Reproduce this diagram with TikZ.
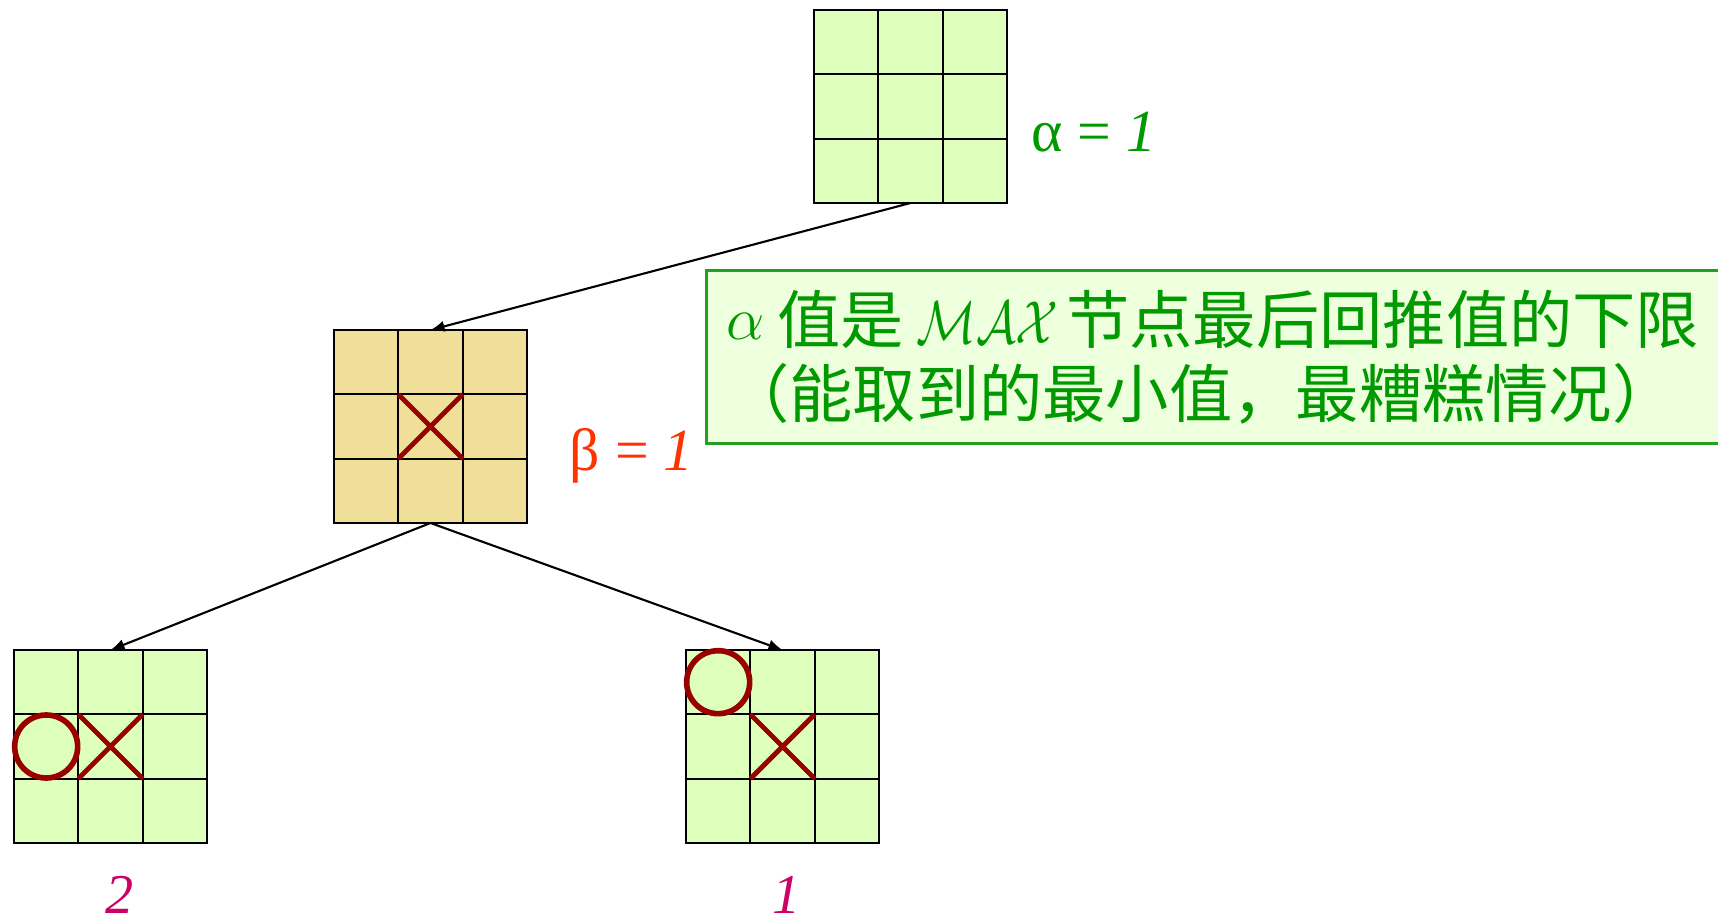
\documentclass[tikz,border=0pt]{standalone}
\usepackage{fontspec}
\usepackage{xcolor}
\usepackage{tikz}
\usetikzlibrary{arrows.meta}

\newfontfamily\cjkfont{Noto Sans CJK SC}
\newfontfamily\labelfont{Liberation Serif}

\definecolor{boardgreen}{HTML}{DDFFBB}
\definecolor{boardtan}{HTML}{F0DF99}
\definecolor{markred}{HTML}{990000}
\definecolor{alphagreen}{HTML}{009900}
\definecolor{betaorange}{HTML}{FF3300}
\definecolor{leafpink}{HTML}{CC0066}
\definecolor{notefill}{HTML}{EEFFDD}
\definecolor{noteline}{HTML}{22A022}

\begin{document}
\begin{tikzpicture}[
    board/.style={draw, rectangle, line width=0.6pt, minimum size=1.93cm, outer sep=0pt, inner sep=0pt, fill=boardgreen},
    cell/.style={line width=0.6pt},
    xmark/.style={markred, line width=1.4pt},
    omark/.style={markred, line width=1.6pt},
    edge/.style={->, >={Latex[length=4pt, width=3.2pt]}, line width=0.6pt},
    bound/.style={font=\labelfont\fontsize{17}{20}\selectfont, anchor=base west, inner sep=0pt},
    leaf/.style={font=\labelfont\fontsize{16}{19}\selectfont, text=leafpink, anchor=base, inner sep=0pt}
]
    \useasboundingbox (0,0) rectangle (17.18,-9.21);

    % Boards of the game tree
    \node[board] (top) at (9.105, -1.065) {};
    \node[board, fill=boardtan] (mid) at (4.305, -4.265) {};
    \node[board] (left) at (1.105, -7.465) {};
    \node[board] (right) at (7.825, -7.465) {};

    % Inner lines of each board
    \foreach \b in {top, mid, left, right}
        \foreach \k in {1, 2} {
            \draw[cell] (\b.north west) ++(\k*0.6433, 0) -- ++(0, -1.93);
            \draw[cell] (\b.north west) ++(0, -\k*0.6433) -- ++(1.93, 0);
        }

    % Moves
    \draw[xmark] (mid.center) ++(-0.3217, -0.3217) -- ++(0.6433, 0.6433)
                 (mid.center) ++(-0.3217, 0.3217) -- ++(0.6433, -0.6433);
    \draw[xmark] (left.center) ++(-0.3217, -0.3217) -- ++(0.6433, 0.6433)
                 (left.center) ++(-0.3217, 0.3217) -- ++(0.6433, -0.6433);
    \draw[omark] (left.center) ++(-0.6433, 0) circle (0.315);
    \draw[xmark] (right.center) ++(-0.3217, -0.3217) -- ++(0.6433, 0.6433)
                 (right.center) ++(-0.3217, 0.3217) -- ++(0.6433, -0.6433);
    \draw[omark] (right.center) ++(-0.6433, 0.6433) circle (0.315);

    % Tree edges
    \draw[edge] (top.south) -- (mid.north);
    \draw[edge] (mid.south) -- (left.north);
    \draw[edge] (mid.south) -- (right.north);

    % Bounds and leaf values
    \node[bound, text=alphagreen] (alpha) at (10.31, -1.52) {α = \textit{1}};
    \node[bound, text=betaorange] (beta) at (5.69, -4.70) {β = \textit{1}};
    \node[leaf] (lval) at (1.20, -9.13) {\textit{2}};
    \node[leaf] (rval) at (7.87, -9.13) {\textit{1}};

    % Note on alpha
    \node[draw=noteline, fill=notefill, line width=0.8pt, anchor=north west,
          minimum height=1.73cm, text width=10.6cm, inner xsep=0.2cm, align=left,
          text=alphagreen, font=\cjkfont\fontsize{18}{21}\selectfont] (note) at (7.05, -2.69)
        {\raisebox{1pt}{$\alpha$}\hspace{0.2em}值是\hspace{0.2em}\scalebox{0.82}[1]{$\mathcal{MAX}$}\hspace{0.12em}节点最后回推值的下限\\（能取到的最小值，最糟糕情况）};
\end{tikzpicture}
\end{document}
